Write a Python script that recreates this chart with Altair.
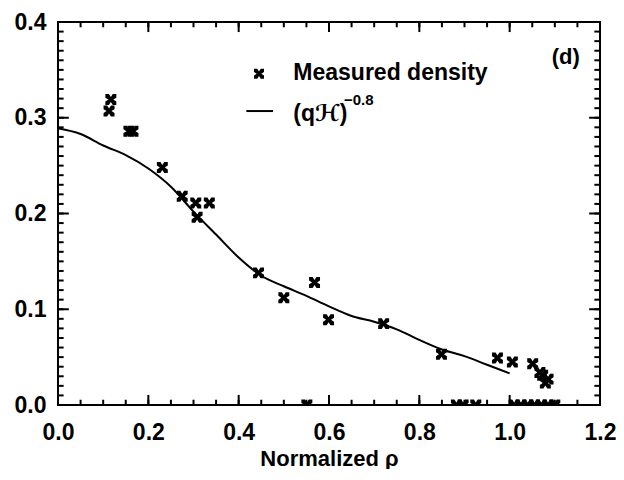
import altair as alt
import pandas as pd

# Measured density points
pts_x = [0.117, 0.113, 0.157, 0.166, 0.231, 0.275, 0.305, 0.335, 0.308, 0.444, 0.500,
         0.568, 0.599, 0.721, 0.849, 0.973, 1.006, 1.051, 1.067, 1.073, 1.079, 1.085,
         0.551, 0.882, 0.897, 0.925, 1.010, 1.025, 1.040, 1.055, 1.070, 1.085, 1.100]
pts_y = [0.319, 0.307, 0.286, 0.286, 0.248, 0.218, 0.211, 0.211, 0.196, 0.138, 0.112,
         0.128, 0.089, 0.085, 0.053, 0.049, 0.045, 0.043, 0.034, 0.031, 0.023, 0.027,
         0.0, 0.0, 0.0, 0.0, 0.0, 0.0, 0.0, 0.0, 0.0, 0.0, 0.0]

# (qH)^-0.8 model curve
curve_x = [0.0, 0.05, 0.1, 0.15, 0.2, 0.25, 0.3, 0.35, 0.4, 0.45, 0.5, 0.55, 0.6, 0.65,
           0.7, 0.75, 0.8, 0.85, 0.9, 0.95, 1.0]
curve_y = [0.289, 0.283, 0.271, 0.261, 0.247, 0.228, 0.202, 0.178, 0.154, 0.135, 0.124,
           0.114, 0.103, 0.093, 0.087, 0.079, 0.068, 0.058, 0.051, 0.042, 0.033]

# axis ticks
x_major = [0.0, 0.2, 0.4, 0.6, 0.8, 1.0, 1.2]
x_minor = [round(i * 0.05, 2) for i in range(0, 25)]
y_major = [0.0, 0.1, 0.2, 0.3, 0.4]
y_minor = [round(i * 0.01, 2) for i in range(0, 41)]

# legend / annotation texts
leg_text = ["Measured density", "(q\u210b)", "\u22120.8", "(d)"]
leg_tx = [0.521, 0.521, 0.633, 1.093]
leg_ty = [0.347, 0.304, 0.319, 0.3635]
leg_fs = [23, 23, 15, 22]
leg_mark_x = [0.445]
leg_mark_y = [0.346]
leg_line_x = [0.417]
leg_line_x2 = [0.476]
leg_line_y = [0.307]

W, H = 542, 383
FONT = "Liberation Sans, DejaVu Sans, Arial"

pts = pd.DataFrame({"x": pts_x, "y": pts_y})
curve = pd.DataFrame({"x": curve_x, "y": curve_y})
leg = pd.DataFrame({"x": leg_tx, "y": leg_ty, "t": leg_text, "fs": leg_fs})
legm = pd.DataFrame({"x": leg_mark_x, "y": leg_mark_y})
legl = pd.DataFrame({"x": leg_line_x, "x2": leg_line_x2, "y": leg_line_y})
xmaj = pd.DataFrame({"v": x_major})
xmin = pd.DataFrame({"v": x_minor})
ymaj = pd.DataFrame({"v": y_major})
ymin = pd.DataFrame({"v": y_minor})

xs = alt.Scale(domain=[0, 1.2], nice=False, zero=False)
ys = alt.Scale(domain=[0, 0.4], nice=False, zero=False)

XSHAPE = ("M-1,-1L-0.35,-1L0,-0.45L0.35,-1L1,-1L1,-0.35L0.45,0L1,0.35L1,1L0.35,1"
          "L0,0.45L-0.35,1L-1,1L-1,0.35L-0.45,0L-1,-0.35Z")
# upper half of the marker: points sitting on the x axis are cut by the frame
XHALF = "M-1,-1L-0.35,-1L0,-0.45L0.35,-1L1,-1L1,-0.35L0.45,0L-0.45,0L-1,-0.35Z"

points = alt.Chart(pts).transform_filter("datum.y > 0").mark_point(
    shape=XSHAPE, filled=True, color="black", size=120, opacity=1).encode(
    x=alt.X("x:Q", scale=xs, axis=alt.Axis(values=x_major, format=".1f",
                                           ticks=False, domain=False, grid=False,
                                           labelFlush=False,
                                           labelPadding=16, title="Normalized \u03c1",
                                           titlePadding=4)),
    y=alt.Y("y:Q", scale=ys, axis=alt.Axis(values=y_major, format=".1f",
                                           ticks=False, domain=False, grid=False,
                                           labelFlush=False,
                                           labelPadding=12, title=None)),
)

points0 = alt.Chart(pts).transform_filter("datum.y <= 0").mark_point(
    shape=XHALF, filled=True, color="black", size=120, opacity=1).encode(
    x=alt.X("x:Q", scale=xs), y=alt.Y("y:Q", scale=ys))

line = alt.Chart(curve).mark_line(color="black", strokeWidth=2,
                                  interpolate="monotone").encode(
    x=alt.X("x:Q", scale=xs),
    y=alt.Y("y:Q", scale=ys),
)

# inward tick lengths, in data units of the other axis
XT_MAJ, XT_MIN = 0.0105, 0.0055   # vertical ticks (y units)
YT_MAJ, YT_MIN = 0.024, 0.0125    # horizontal ticks (x units)


def xticks(df, a, b):
    return alt.Chart(df).transform_calculate(a=str(a), b=str(b)).mark_rule(
        color="black", strokeWidth=2).encode(
        x=alt.X("v:Q", scale=xs), y=alt.Y("a:Q", scale=ys), y2="b:Q")


def yticks(df, a, b):
    return alt.Chart(df).transform_calculate(a=str(a), b=str(b)).mark_rule(
        color="black", strokeWidth=2).encode(
        y=alt.Y("v:Q", scale=ys), x=alt.X("a:Q", scale=xs), x2="b:Q")


ticks = [
    xticks(xmaj, 0.0, XT_MAJ), xticks(xmaj, 0.4, 0.4 - XT_MAJ),
    xticks(xmin, 0.0, XT_MIN), xticks(xmin, 0.4, 0.4 - XT_MIN),
    yticks(ymaj, 0.0, YT_MAJ), yticks(ymaj, 1.2, 1.2 - YT_MAJ),
    yticks(ymin, 0.0, YT_MIN), yticks(ymin, 1.2, 1.2 - YT_MIN),
]

leg_mark = alt.Chart(legm).mark_point(shape=XSHAPE, filled=True, color="black",
                                      size=100, opacity=1).encode(
    x=alt.X("x:Q", scale=xs), y=alt.Y("y:Q", scale=ys))
leg_line = alt.Chart(legl).mark_rule(color="black", strokeWidth=2).encode(
    x=alt.X("x:Q", scale=xs), x2="x2:Q", y=alt.Y("y:Q", scale=ys))
leg_txt = alt.Chart(leg).mark_text(align="left", baseline="middle", font=FONT,
                                   fontWeight="bold", color="black").encode(
    x=alt.X("x:Q", scale=xs), y=alt.Y("y:Q", scale=ys),
    text="t:N", size=alt.Size("fs:Q", scale=None))

chart = alt.layer(points, points0, line, *ticks, leg_mark, leg_line, leg_txt).properties(
    width=W, height=H,
    padding={"left": 6, "top": 3, "right": 0, "bottom": 0},
).configure_view(
    stroke="black", strokeWidth=2
).configure_axis(
    labelFont=FONT, labelFontWeight="bold", labelFontSize=23, labelColor="black",
    titleFont=FONT, titleFontWeight="bold", titleFontSize=22, titleColor="black",
)

chart.save("out.html", embed_options={"renderer": "svg", "actions": False})
